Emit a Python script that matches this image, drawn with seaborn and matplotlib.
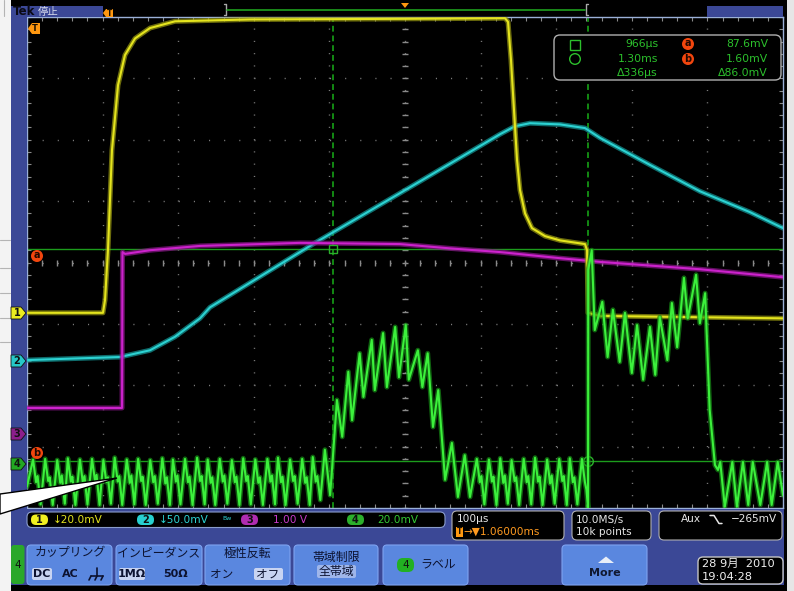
import numpy as np
import matplotlib.pyplot as plt
import seaborn as sns
from matplotlib.patches import FancyBboxPatch, Polygon, Circle, Rectangle

# time in us from the left edge of the screen (100 us/div), level in screen divisions from the bottom (8 div)
ch1_t = [0, 100.5, 103.2, 107.1, 112.4, 120.4, 129.6, 142.9, 162.7, 195.8, 295.0, 493.4, 632.3, 636.3,
         640.2, 644.2, 648.2, 652.1, 658.8, 668.0, 685.2, 705.1, 738.1, 740.8, 742.1, 758.0, 1000]
ch1_v = [3.18, 3.18, 3.39, 4.20, 5.83, 6.89, 7.38, 7.65, 7.82, 7.93, 7.96, 7.97, 7.98, 7.92,
         7.30, 6.48, 5.67, 5.18, 4.80, 4.56, 4.43, 4.36, 4.30, 4.20, 3.18, 3.13, 3.09]

ch2_t = [0, 123.0, 162.7, 195.8, 228.8, 242.1, 381.0, 493.4, 625.7, 645.5, 665.4, 705.1, 738.1, 758.0,
         824.1, 890.2, 956.4, 1000]
ch2_v = [2.41, 2.46, 2.57, 2.79, 3.09, 3.27, 4.32, 5.13, 6.09, 6.22, 6.27, 6.25, 6.19, 6.03,
         5.59, 5.16, 4.82, 4.56]

ch3_t = [0, 125.7, 126.3, 129.6, 162.7, 228.8, 361.1, 493.4, 559.5, 625.7, 705.1, 758.0, 890.2, 1000]
ch3_v = [1.63, 1.63, 4.17, 4.14, 4.20, 4.27, 4.32, 4.30, 4.23, 4.17, 4.07, 4.01, 3.89, 3.76]

ch4_t = [0, 8, 12, 14, 18,
         24, 28, 30, 34, 40, 44, 46, 50, 54, 58, 60, 64, 70, 74, 76, 80,
         86, 90, 92, 96, 101, 105, 107, 111, 116, 120, 122, 126, 132, 136, 138, 142,
         147, 151, 153, 157, 163, 167, 169, 173, 179, 183, 185, 189, 193, 197, 199, 203,
         209, 213, 215, 219, 225, 229, 231, 235, 239, 243, 245, 249, 255, 259, 261, 265,
         271, 275, 277, 281, 286, 290, 292, 296, 302, 306, 308, 312, 318, 322, 324, 328,
         332, 336, 338, 342, 348, 352, 354, 358, 364, 368, 370, 374, 378, 382, 384, 388,
         394, 401,
         410, 417, 425, 430, 440, 445, 456, 460, 471, 476, 487, 492, 501, 505, 517, 523,
         530, 537, 544, 553, 562, 570, 579, 586,
         595, 599, 601, 605, 611, 615, 617, 621, 626, 630, 632, 636, 641, 645, 647, 651,
         657, 661, 663, 667, 672, 676, 678, 682, 688, 692, 694, 698, 704, 708, 710, 714,
         718, 722, 724, 728, 734, 738, 740, 742.1,
         742.4, 747, 751, 761, 768, 775, 784, 791, 800, 807, 815, 824, 831, 837, 847, 853,
         860, 869, 874, 885, 890, 897, 903, 910, 914, 917, 923, 933, 939, 947, 954, 960,
         970, 979, 985, 993, 1000]
ch4_v = [0.35, 0.79, 0.42, 0.52, 0.06,
         0.80, 0.44, 0.50, 0.05, 0.78, 0.41, 0.53, 0.07, 0.81, 0.43, 0.51, 0.05, 0.79, 0.40, 0.52, 0.06,
         0.80, 0.44, 0.54, 0.05, 0.78, 0.42, 0.50, 0.07, 0.82, 0.43, 0.52, 0.05, 0.79, 0.41, 0.53, 0.06,
         0.80, 0.44, 0.51, 0.05, 0.78, 0.42, 0.52, 0.07, 0.81, 0.40, 0.50, 0.05, 0.79, 0.43, 0.53, 0.06,
         0.80, 0.42, 0.51, 0.05, 0.82, 0.44, 0.52, 0.06, 0.79, 0.41, 0.50, 0.05, 0.80, 0.43, 0.53, 0.07,
         0.78, 0.42, 0.51, 0.05, 0.81, 0.44, 0.52, 0.06, 0.79, 0.41, 0.50, 0.05, 0.80, 0.43, 0.53, 0.06,
         0.82, 0.42, 0.51, 0.05, 0.79, 0.44, 0.52, 0.07, 0.80, 0.41, 0.50, 0.05, 0.83, 0.43, 0.52, 0.13,
         0.95, 0.21,
         1.76, 1.16, 2.22, 1.43, 2.52, 1.81, 2.74, 1.92, 2.85, 1.97, 2.95, 2.13, 2.98, 2.09, 2.57, 1.97,
         2.52, 1.32, 1.92, 0.46, 1.06, 0.18, 0.86, 0.18,
         0.80, 0.42, 0.52, 0.06, 0.79, 0.43, 0.51, 0.05, 0.81, 0.41, 0.53, 0.07, 0.78, 0.44, 0.50, 0.05,
         0.80, 0.42, 0.52, 0.06, 0.82, 0.43, 0.51, 0.05, 0.79, 0.40, 0.53, 0.07, 0.80, 0.44, 0.52, 0.05,
         0.81, 0.42, 0.50, 0.06, 0.80, 0.42, 0.30, 0.00,
         3.88, 4.20, 2.90, 3.36, 2.46, 3.23, 2.38, 3.18, 2.20, 2.98, 2.09, 2.95, 2.17, 3.11, 2.41, 3.34,
         2.62, 3.75, 3.09, 3.80, 3.01, 3.50, 1.60, 0.70, 0.62, 0.75, 0.02, 0.75, 0.02, 0.75, 0.05, 0.75,
         0.05, 0.75, 0.05, 0.75, 0.21]

cursor_t = [404.8, 742.1]
cursor_v = [4.22, 0.77]
readout_time = ["966µs", "1.30ms", "Δ336µs"]
readout_volt = ["87.6mV", "1.60mV", "Δ86.0mV"]
ch_scale = ["↓20.0mV", "↓50.0mV", "1.00 V", "20.0mV"]

YEL, CYA, MAG, GRN = "#e4e41e", "#2cd2d2", "#cc22cc", "#3cf03c"
BLUE, BTN, NAVY = "#3b4896", "#5a87df", "#0c1230"

sns.set_theme(style="dark", rc={"axes.facecolor": "black", "figure.facecolor": "black"})
plt.rcParams['font.family'] = ['DejaVu Sans', 'Noto Sans CJK JP']

fig = plt.figure(figsize=(7.94, 5.91), dpi=100)
ax = fig.add_axes([27/794, 83/591, 756/794, 491/591])
ax.set_facecolor("black")

# graticule
for x in range(100, 1000, 100):
    ax.axvline(x, color="#7c7c7c", lw=1, dashes=(0.8, 8.04), zorder=1)
for y in range(1, 8):
    ax.axhline(y, color="#7c7c7c", lw=1, dashes=(0.8, 10.09), zorder=1)
ax.plot(np.arange(0, 1001, 20), [4]*51, ls="none", marker="|", ms=4, color="#8a8a8a", zorder=1)
ax.plot([500]*41, np.arange(0, 8.01, 0.2), ls="none", marker="_", ms=4, color="#8a8a8a", zorder=1)
ax.set_xticks(np.arange(0, 1001, 100))
ax.set_xticks(np.arange(0, 1001, 20), minor=True)
ax.set_yticks(np.arange(0, 8.01, 1))
ax.set_yticks(np.arange(0, 8.01, 0.2), minor=True)
ax.tick_params(which="both", direction="in", length=3, width=0.8, color="#8a8a8a",
               top=True, right=True, bottom=True, left=True,
               labelbottom=False, labelleft=False)
ax.grid(False)

# cursors
for t in cursor_t:
    ax.axvline(t, color="#138a13", lw=1.4, ls=(0, (3, 2)), zorder=2)
for v in cursor_v:
    ax.axhline(v, color="#1c9c1c", lw=1, zorder=2)
ax.plot(cursor_t[0], cursor_v[0], marker="s", ms=6, mfc="none", mec="#2ab02a", zorder=6)
ax.plot(cursor_t[1], cursor_v[1], marker="o", ms=7, mfc="none", mec="#2ab02a", zorder=6)

# traces: wide dim band under a bright core
traces = [(ch2_t, ch2_v, "#159a9a", CYA), (ch3_t, ch3_v, "#8c168c", MAG),
          (ch1_t, ch1_v, "#9a9a10", YEL), (ch4_t, ch4_v, "#168c16", GRN)]
for i, (t, v, dim, bright) in enumerate(traces):
    sns.lineplot(x=t, y=v, ax=ax, color=dim, linewidth=3.6, alpha=0.7, sort=False,
                 estimator=None, zorder=3 + i)
    sns.lineplot(x=t, y=v, ax=ax, color=bright, linewidth=1.5, sort=False,
                 estimator=None, zorder=3 + i)

ax.set_xlim(0, 1000)
ax.set_ylim(0, 8)
ax.set_xlabel("")
ax.set_ylabel("")
for s in ax.spines.values():
    s.set_color("#9ab0d8")
    s.set_linewidth(1)

# ---- scope frame overlay in pixel units ----
ov = fig.add_axes([0, 0, 1, 1])
ov.set_xlim(0, 794)
ov.set_ylim(591, 0)
ov.axis("off")
ov.patch.set_alpha(0)


def rbox(x0, y0, x1, y1, fc, ec="none", r=3, lw=1, z=2):
    ov.add_patch(FancyBboxPatch((x0, y0), x1 - x0, y1 - y0, boxstyle=f"round,pad=0,rounding_size={r}",
                                fc=fc, ec=ec, lw=lw, zorder=z))


def txt(x, y, s, c=NAVY, size=7.6, ha="left", w="normal", z=6):
    ov.text(x, y, s, color=c, fontsize=size, ha=ha, va="center", fontweight=w, zorder=z)


ov.add_patch(Rectangle((0, 0), 11, 591, fc="#f3f3f3", ec="none", zorder=1))
for yy in [240, 268, 293, 318, 342]:
    ov.plot([0, 10], [yy, yy], color="#b4b4b4", lw=0.8, zorder=1)
ov.plot([4, 4], [0, 16], color="#b4b4b4", lw=0.8, zorder=1)
ov.add_patch(Rectangle((787, 0), 7, 591, fc="#e6e6e6", ec="none", zorder=1))

# blue frame parts
ov.add_patch(Rectangle((11, 6), 16, 540, fc=BLUE, ec="none", zorder=1))
ov.add_patch(Rectangle((11, 6), 92, 11, fc=BLUE, ec="none", zorder=1))
ov.add_patch(Rectangle((707, 6), 76, 11, fc=BLUE, ec="none", zorder=1))
ov.add_patch(Rectangle((11, 509), 773, 76, fc=BLUE, ec="none", zorder=1))
txt(13, 11.5, "Tek", c="#0a0a14", size=8.5, w="bold")
txt(38, 11.5, "停止", c="#d4d8ea", size=7.5)

# trigger markers and record view
ov.add_patch(Polygon([(103, 13), (106, 9), (113, 9), (113, 17), (106, 17)], fc="#ff9810", ec="none", zorder=3))
txt(109.5, 13, "T", c="#1a1000", size=5.5, ha="center", w="bold")
ov.plot([224, 226, 226, 224], [4, 4, 15, 15], color="#a8a8a8", lw=1, zorder=3)
ov.plot([588, 586, 586, 588], [4, 4, 15, 15], color="#a8a8a8", lw=1, zorder=3)
ov.plot([227, 585], [10, 10], color="#1fa01f", lw=1.2, zorder=3)
ov.add_patch(Polygon([(401, 3), (409, 3), (405, 8)], fc="#ff9810", ec="none", zorder=3))
ov.add_patch(Polygon([(28, 28.5), (32, 23), (40, 23), (40, 34), (32, 34)], fc="#ff9810", ec="none", zorder=3))
txt(35, 28.5, "T", c="#1a1000", size=6, ha="center", w="bold")

# channel ground markers
for y, fc, lab in [(313, "#ecec20", "1"), (361, "#26c8c8", "2"), (434, "#8c1e8c", "3"), (464, "#22a822", "4")]:
    ov.add_patch(Polygon([(11, y - 6), (21, y - 6), (26, y), (21, y + 6), (11, y + 6)], fc=fc, ec="#101010",
                         lw=0.6, zorder=3))
    txt(17, y, lab, c="#101010", size=7, ha="center", w="bold")

# cursor level markers a / b
for y, lab in [(256, "a"), (453, "b")]:
    ov.add_patch(Circle((37, y), 6, fc="#f2460e", ec="none", zorder=4))
    txt(37, y - 0.5, lab, c="#200800", size=7, ha="center", w="bold")

# cursor readout
rbox(554, 35, 781, 80, "black", ec="#b0b0b0", r=6, lw=1, z=5)
ov.add_patch(Rectangle((570, 39.5), 10, 10, fc="none", ec="#2cc02c", lw=1, zorder=6))
ov.add_patch(Circle((575, 59), 5.3, fc="none", ec="#2cc02c", lw=1, zorder=6))
for i, y in enumerate([44, 59, 73]):
    txt(658, y, readout_time[i], c="#2cc02c", size=7.8, ha="right")
    txt(768, y, readout_volt[i], c="#2cc02c", size=7.8, ha="right")
for y, lab in [(44, "a"), (59, "b")]:
    ov.add_patch(Circle((688, y), 6, fc="#f2460e", ec="none", zorder=6))
    txt(688, y - 0.5, lab, c="#200800", size=7, ha="center", w="bold")

# channel scale bar
rbox(27, 512, 445, 527.5, "black", ec="#8a9ccc", r=5, lw=0.8)
for x0, fc, lab, tx, col, s in [(31, "#f0f020", "1", 53, YEL, ch_scale[0]),
                                (137, "#28d0d0", "2", 159, CYA, ch_scale[1]),
                                (241, "#b02cb0", "3", 273, "#c83ac8", ch_scale[2]),
                                (347, "#2cb02c", "4", 377, "#34c834", ch_scale[3])]:
    rbox(x0, 514.5, x0 + 17, 525, fc, r=5, z=3)
    txt(x0 + 8.5, 519.8, lab, c="#101010", size=7, ha="center", w="bold")
    txt(tx, 519.8, s, c=col, size=7.6)
txt(222, 518, "Bw", c=CYA, size=4.5)

rbox(452, 511, 564, 540, "black", ec="#b0b0b0", r=5, lw=0.8)
txt(457, 519.5, "100µs", c="#e6e6e6", size=7.6)
ov.add_patch(Rectangle((456, 527), 7, 10, fc="#ff9810", ec="none", zorder=3))
txt(459.5, 532, "T", c="#1a1000", size=5.5, ha="center", w="bold")
txt(463.5, 532, "→▼1.06000ms", c="#ff9a20", size=7.6)
rbox(572, 511, 651, 540, "black", ec="#b0b0b0", r=5, lw=0.8)
txt(576, 519.5, "10.0MS/s", c="#e6e6e6", size=7.6)
txt(576, 532, "10k points", c="#e6e6e6", size=7.6)
rbox(659, 511, 782, 540, "black", ec="#b0b0b0", r=5, lw=0.8)
txt(681, 519.5, "Aux", c="#e6e6e6", size=7.6)
ov.plot([710, 714, 719, 722], [515.5, 515.5, 523.5, 523.5], color="#e6e6e6", lw=1.1, zorder=6)
txt(777, 519.5, "−265mV", c="#e6e6e6", size=7.6, ha="right")

# menu buttons
rbox(11, 545, 24.5, 584, "#2aa82a", r=3)
txt(17.7, 565, "4", c="#101010", size=7.5, ha="center")
for x0, x1 in [(27, 112), (116, 202), (205, 290), (294, 378), (383, 468), (562, 647)]:
    rbox(x0, 545, x1, 585, BTN, ec="#7ea2f0", r=4, lw=0.8)
txt(70, 553, "カップリング", size=8.6, ha="center")
txt(159, 553, "インピーダンス", size=8.6, ha="center")
txt(247, 553, "極性反転", size=8.6, ha="center")
rbox(32, 568, 52, 580, "#c8d4f2", r=2, z=3)
rbox(119, 568, 145, 580, "#c8d4f2", r=2, z=3)
rbox(254, 568, 283, 580, "#c8d4f2", r=2, z=3)
txt(42, 574, "DC", size=8, ha="center", w="bold")
txt(70, 574, "AC", size=8, ha="center", w="bold")
ov.plot([97, 97], [568, 576], color=NAVY, lw=1.2, zorder=6)
ov.plot([91, 103], [576, 576], color=NAVY, lw=1.2, zorder=6)
for gx in [91, 97, 103]:
    ov.plot([gx, gx - 2], [576, 580], color=NAVY, lw=1.2, zorder=6)
txt(132, 574, "1MΩ", size=8, ha="center", w="bold")
txt(175, 574, "50Ω", size=8, ha="center", w="bold")
txt(222, 574, "オン", size=8.4, ha="center")
txt(268, 574, "オフ", size=8.4, ha="center")
txt(336, 557, "帯域制限", size=8.6, ha="center")
rbox(317, 565, 356, 578, "#9fb6ea", r=2, z=3)
txt(336, 571, "全帯域", size=8.6, ha="center")
rbox(397, 558, 414, 572, "#22b022", r=6, z=3)
txt(405.5, 565, "4", c="#101010", size=7.5, ha="center")
txt(420, 565, "ラベル", size=8.6)
ov.add_patch(Polygon([(598, 563), (606, 556.5), (614, 563)], fc="#e8eef8", ec="none", zorder=4))
txt(605, 572.5, "More", c="#101830", size=8, ha="center", w="bold")
rbox(698, 557, 783, 584, "black", ec="#c4c4c4", r=5, lw=1)
txt(702, 564, "28 9月  2010", c="#f0f0f0", size=8.2)
txt(702, 577, "19:04:28", c="#f0f0f0", size=8.2)

# callout wedge over the lower left corner
ov.add_patch(Polygon([(0, 494), (117, 478), (0, 514)], fc="white", ec="black", lw=1, zorder=8))

fig.savefig("out.png", dpi=100, facecolor="black")
